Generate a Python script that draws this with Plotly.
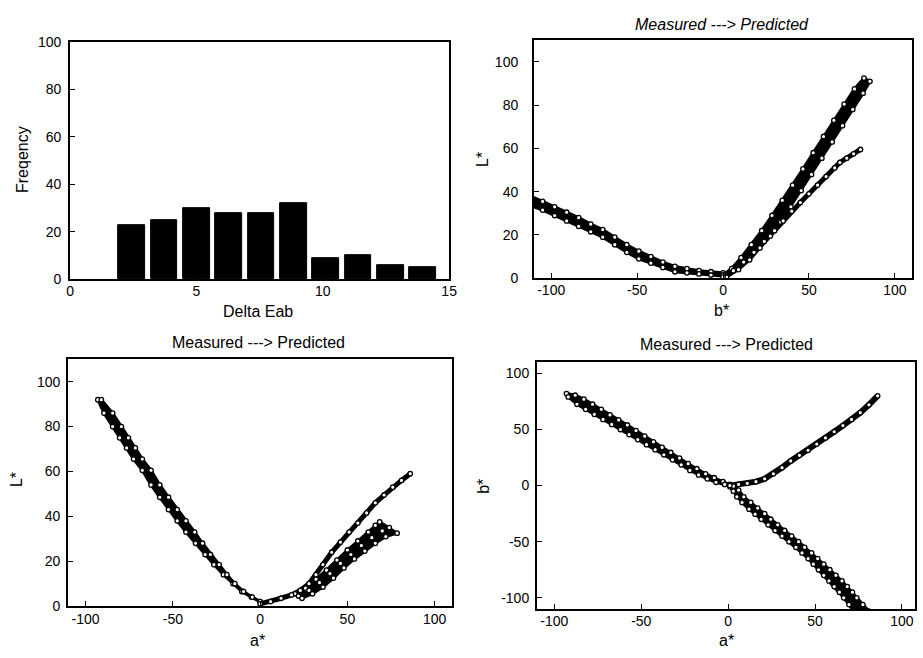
import plotly.graph_objects as go

W, H = 923, 658

# ---------------- Delta Eab histogram ----------------
DE_BIN_CENTERS = [2.44, 3.72, 5.00, 6.28, 7.56, 8.84, 10.12, 11.40, 12.68, 13.96]
DE_COUNTS = [23, 25, 30, 28, 28, 32, 9, 10, 6, 5]

# ---------------- L* against b* (measured -> predicted) ----------------
LB_BLUE_MEAS = [(-112, 38), (-105, 35.5), (-98, 33), (-91, 30.5), (-84, 28), (-77, 25), (-70, 22.5),
                (-63, 19), (-56, 15.5), (-49, 12.5), (-42, 10), (-35, 7.5), (-28, 5.5), (-21, 4.5),
                (-14, 3.5), (-7, 3), (0, 2.5)]
LB_BLUE_PRED = [(-112, 33.5), (-105, 31.5), (-98, 29), (-91, 26.5), (-84, 24), (-77, 21.5), (-70, 19),
                (-63, 15.5), (-56, 12), (-49, 9), (-42, 7), (-35, 5), (-28, 3), (-21, 2.5), (-14, 2),
                (-7, 1.5), (0, 1)]
LB_GREEN_MEAS = [(0, 1.5), (5, 4.5), (10.5, 9.5), (16.5, 15.5), (22.5, 22), (28.5, 29), (34.5, 36),
                 (40.5, 43), (46.5, 50.5), (52.5, 58), (58.5, 65.5), (64.5, 73), (70.5, 80.5),
                 (76.5, 87.5), (82, 92.5)]
LB_GREEN_PRED = [(2, 0.5), (9, 4), (15.5, 8.5), (21.5, 14), (27.5, 19.5), (33.5, 26), (39.5, 33),
                 (45.5, 40.5), (51.5, 48), (57.5, 55.5), (63.5, 63), (69.5, 70.5), (75.5, 78),
                 (81.5, 85.5), (85.5, 91)]
LB_RED = [(0, 0.5), (6, 3.5), (12, 7.5), (18, 12), (24, 17), (30, 22), (35, 26.5), (40, 31), (45, 35),
          (50, 39), (55, 43), (60, 47), (65, 51), (68, 53.5), (72, 55.5), (76, 57.5), (80, 59.5)]

# ---------------- L* against a* ----------------
LA_GREEN_MEAS = [(-93, 92), (-89.5, 86), (-84.5, 80), (-80.5, 75), (-76.5, 70.5), (-72.5, 65.5),
                 (-67.5, 60.5), (-62.5, 54), (-57.5, 48.5), (-52.5, 43), (-47.5, 38), (-42.5, 33),
                 (-37, 28), (-31.5, 23), (-26.5, 18.5), (-21, 14), (-15.5, 10), (-10.5, 6.5), (-5, 4), (0, 2)]
LA_GREEN_PRED = [(-91, 92), (-84.5, 86), (-79.5, 80), (-75.5, 75), (-71.5, 70.5), (-67.5, 65.5),
                 (-62.5, 60.5), (-57.5, 54), (-52.5, 48.5), (-47.5, 43), (-42.5, 38), (-37.5, 33),
                 (-33, 28), (-28.5, 23), (-23.5, 18.5), (-19, 14), (-14.5, 10), (-9.5, 6.5), (-4.5, 4), (0, 2)]
LA_RED = [(0, 1), (6, 2), (12, 3.5), (18, 5), (23, 7), (28, 10), (32, 14), (36, 18.5), (41, 24),
          (46, 28.5), (51, 33), (56, 37), (61, 41.5), (66, 46), (71, 49.5), (76, 53), (81, 56), (86, 59)]
LA_BLUE_MEAS = [(20, 5.5), (26, 8), (32, 12), (38, 16), (44, 20.5), (50, 25), (56, 29), (62, 33),
                (66, 36), (68.5, 37.5)]
LA_BLUE_MID = [(22, 4.5), (28, 7), (34, 10.5), (40, 14.5), (46, 19), (52, 23), (58, 27), (64, 30.5),
               (70, 33.5), (74, 35)]
LA_BLUE_PRED = [(24, 3.5), (30, 5.5), (36, 8.5), (42, 12.5), (48, 17), (54, 21), (60, 24.5), (66, 28),
                (72, 31), (78.5, 32.5)]

# ---------------- b* against a* ----------------
AB_GREEN_MEAS = [(-93, 82), (-88, 80.5), (-83, 77), (-78, 72.5), (-73, 68), (-68, 63), (-63, 58.5),
                 (-58, 54), (-53, 49), (-48, 44), (-43, 39), (-38, 34), (-33, 29.5), (-28, 24.5),
                 (-23, 19.5), (-18, 15), (-13, 10.5), (-8, 7), (-3, 3.5), (1, 1)]
AB_GREEN_PRED = [(-92, 79), (-87, 72.5), (-82, 68), (-77, 63.5), (-72, 59), (-67, 54.5), (-62, 50),
                 (-57, 45.5), (-52, 41), (-47, 36.5), (-42, 32), (-37, 27.5), (-32, 23), (-27, 18.5),
                 (-22, 13.5), (-17, 9.5), (-12, 6), (-7, 3), (-2, 1), (2, 0)]
AB_RED = [(1, 0), (6, 1), (11, 2), (16, 3.5), (21, 6), (26, 10.5), (31, 16), (36, 22), (41, 27),
          (46, 31.5), (51, 37), (56, 42.5), (61, 48), (66, 53.5), (71, 59), (76, 65), (81, 72), (86, 80)]
AB_BLUE_MEAS = [(1, -1), (3, -5), (5, -10), (8, -15), (12, -21), (15.5, -25.5), (19, -30), (23, -35),
                (27, -40), (31, -45), (35, -50), (39, -55), (42.5, -60), (46, -65), (49, -70), (52, -75),
                (55, -80), (58, -85), (61, -90), (64, -95), (66.5, -100), (69.5, -106), (72, -112)]
AB_BLUE_PRED = [(3, -0.5), (6, -4), (9, -10), (13, -15), (17, -20), (21, -25), (24.5, -30), (28.5, -35),
                (32.5, -40), (36.5, -45), (40.5, -50), (44, -55), (48, -60), (51.5, -65), (55, -70),
                (58.5, -75), (62, -80), (65.5, -85), (68.5, -90), (71.5, -95), (74, -100), (77.5, -106),
                (81, -112)]

FONT = "Liberation Sans, Arial, sans-serif"

fig = go.Figure()

fig.add_trace(go.Bar(x=DE_BIN_CENTERS, y=DE_COUNTS, width=1.05,
                     marker=dict(color="black", line=dict(color="black", width=1)),
                     xaxis="x", yaxis="y", showlegend=False))


def xs_ys(points):
    return [p[0] for p in points], [p[1] for p in points]


def add_band(first, second, xa, ya, lw=3):
    """Outline running out along one strand and back along the other, filled solid."""
    x1, y1 = xs_ys(first)
    x2, y2 = xs_ys(second)
    fig.add_trace(go.Scatter(x=x1 + x2[::-1], y=y1 + y2[::-1], mode="lines",
                             xaxis=xa, yaxis=ya, showlegend=False,
                             line=dict(color="black", width=lw),
                             fill="toself", fillcolor="black"))


def add_line(points, xa, ya, lw=5):
    x, y = xs_ys(points)
    fig.add_trace(go.Scatter(x=x, y=y, mode="lines", xaxis=xa, yaxis=ya, showlegend=False,
                             line=dict(color="black", width=lw)))


def add_circles(points, xa, ya, size=4.5):
    x, y = xs_ys(points)
    fig.add_trace(go.Scatter(x=x, y=y, mode="markers", xaxis=xa, yaxis=ya, showlegend=False,
                             marker=dict(symbol="circle", size=size, color="white",
                                         line=dict(color="black", width=1.3))))


# L* vs b*
add_band(LB_BLUE_MEAS, LB_BLUE_PRED, "x2", "y2")
add_band(LB_GREEN_MEAS, LB_GREEN_PRED, "x2", "y2")
add_line(LB_RED, "x2", "y2")
for pts in (LB_BLUE_MEAS, LB_BLUE_PRED, LB_GREEN_MEAS, LB_GREEN_PRED, LB_RED):
    add_circles(pts, "x2", "y2")

# L* vs a*
add_band(LA_GREEN_MEAS, LA_GREEN_PRED, "x3", "y3")
add_band(LA_BLUE_MEAS, LA_BLUE_PRED, "x3", "y3")
add_line(LA_BLUE_MID, "x3", "y3", lw=2)
add_line(LA_RED, "x3", "y3")
for pts in (LA_GREEN_MEAS, LA_GREEN_PRED, LA_BLUE_MEAS, LA_BLUE_MID, LA_BLUE_PRED, LA_RED):
    add_circles(pts, "x3", "y3")

# b* vs a*
add_band(AB_GREEN_MEAS, AB_GREEN_PRED, "x4", "y4")
add_band(AB_BLUE_MEAS, AB_BLUE_PRED, "x4", "y4")
add_line(AB_RED, "x4", "y4", lw=6)
for pts in (AB_GREEN_MEAS, AB_GREEN_PRED, AB_BLUE_MEAS, AB_BLUE_PRED, AB_RED):
    add_circles(pts, "x4", "y4")


def dom_x(l, r):
    return [l / W, min(r / W, 1.0)]


def dom_y(t, b):
    return [1 - b / H, 1 - t / H]


def axis(domain, anchor, rng, tickvals, standoff):
    return dict(domain=domain, anchor=anchor, range=rng, tickvals=tickvals,
                ticktext=[str(v) for v in tickvals],
                showline=True, mirror=True, linecolor="black", linewidth=2,
                ticks="inside", ticklen=5, tickcolor="black", tickwidth=1,
                showgrid=False, zeroline=False, fixedrange=True,
                ticklabelstandoff=standoff,
                tickfont=dict(family=FONT, size=14, color="black"))


XT = [-100, -50, 0, 50, 100]
LT = [0, 20, 40, 60, 80, 100]
fig.update_layout(
    width=W, height=H, autosize=False,
    margin=dict(l=0, r=0, t=0, b=0),
    paper_bgcolor="white", plot_bgcolor="white",
    bargap=0,
    xaxis=axis(dom_x(67, 451), "y", [0, 15], [0, 5, 10, 15], -2),
    yaxis=axis(dom_y(35, 278), "x", [0, 100], LT, 4),
    xaxis2=axis(dom_x(537, 920), "y2", [-110, 110], XT, -2),
    yaxis2=axis(dom_y(33, 277), "x2", [0, 110], LT, 11),
    xaxis3=axis(dom_x(65, 454), "y3", [-110, 110], XT, -1),
    yaxis3=axis(dom_y(360, 613), "x3", [0, 110], LT, 3),
    xaxis4=axis(dom_x(540, 923), "y4", [-110, 107.5], XT, -2),
    yaxis4=axis(dom_y(363, 616), "x4", [-110, 110], [-100, -50, 0, 50, 100], 3),
)


def label(text, px, py, size=16, angle=0, yanchor="middle"):
    fig.add_annotation(text=text, x=px / W, y=1 - py / H, xref="paper", yref="paper",
                       showarrow=False, textangle=angle, xanchor="center", yanchor=yanchor,
                       font=dict(family=FONT, size=size, color="black"))


label("Freqency", 18, 155, angle=-90)
label("Delta Eab", 257, 311)
label("<i>Measured ---&gt; Predicted</i>", 727, 17)
label("L*", 485, 155, angle=-90)
label("b*", 727, 310)
label("Measured ---&gt; Predicted", 258, 343)
label("L*", 12, 483, angle=-90)
label("a*", 257, 648)
label("Measured ---&gt; Predicted", 732, 345)
label("b*", 485, 490, angle=-90)
label("a*", 732, 638, yanchor="top")

fig.write_html("out.html")
